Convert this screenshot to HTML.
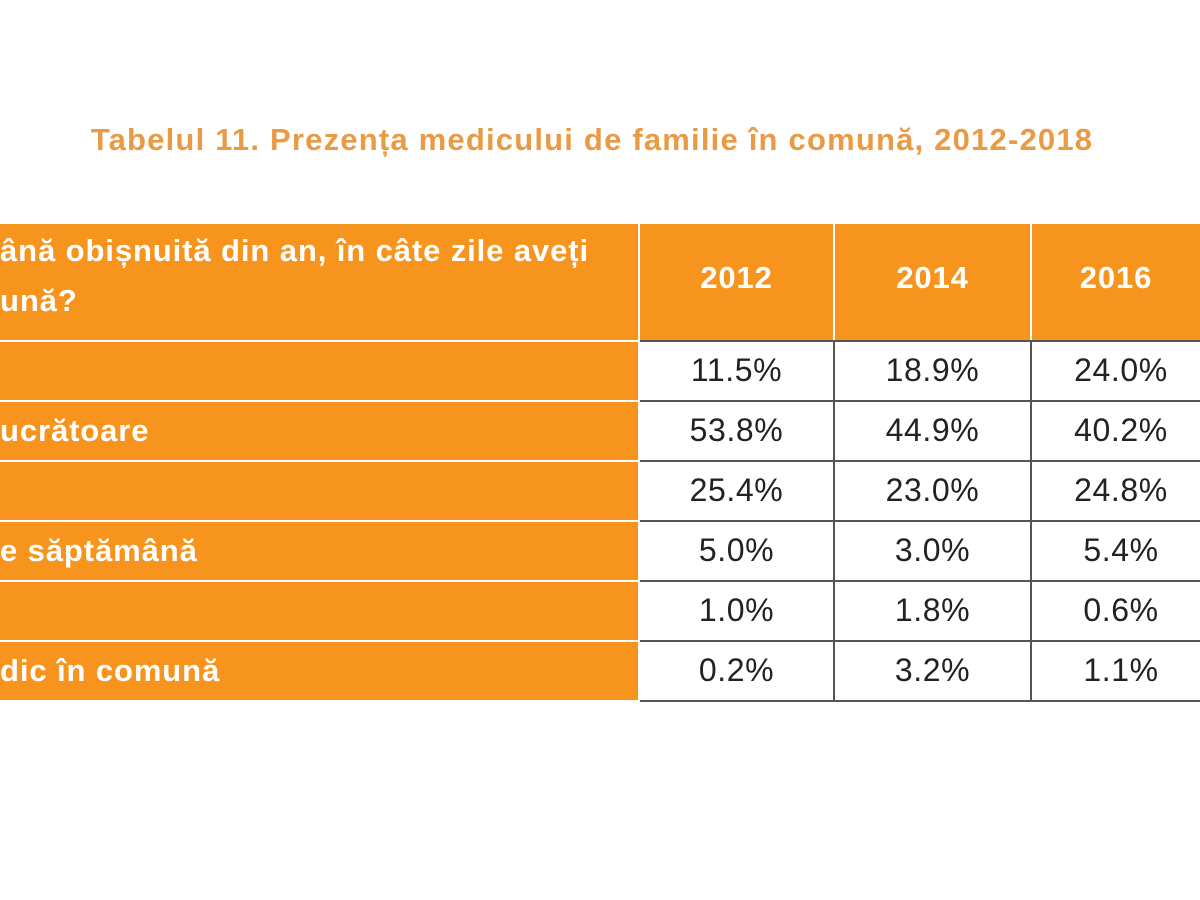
<!DOCTYPE html>
<html><head><meta charset="utf-8"><style>
body{margin:0;width:1200px;height:900px;background:#fff;position:relative;overflow:hidden;font-family:"Liberation Sans",sans-serif;}
.t{position:absolute;left:0;width:1184px;top:122px;text-align:center;color:#e99a45;font-weight:bold;font-size:31px;letter-spacing:1.2px;}
.o{position:absolute;background:#f7941d;color:#fff;font-weight:bold;font-size:31px;letter-spacing:0.9px;}
.c{position:absolute;background:#fff;color:#222;font-size:32px;letter-spacing:0.6px;text-align:center;line-height:56px;border-right:2px solid #555;border-bottom:2px solid #555;box-sizing:border-box;}
.h{text-align:center;line-height:108px;font-size:31px;}
.l{line-height:58px;}
</style></head><body>
<div class="t">Tabelul 11. Prezența medicului de familie în comună, 2012-2018</div>
<div class="o" style="left:0;top:224px;width:638px;height:116px;line-height:50px;padding-top:2px;box-sizing:border-box;">ână obișnuită din an, în câte zile aveți<br>ună?</div>
<div class="o h" style="left:640px;top:224px;width:193px;height:116px;">2012</div>
<div class="o h" style="left:835px;top:224px;width:195px;height:116px;">2014</div>
<div class="o h" style="left:1032px;top:224px;width:168px;height:116px;">2016</div>
<div class="o l" style="left:0;top:342px;width:638px;height:58px;"></div>
<div class="o l" style="left:0;top:402px;width:638px;height:58px;">ucrătoare</div>
<div class="o l" style="left:0;top:462px;width:638px;height:58px;"></div>
<div class="o l" style="left:0;top:522px;width:638px;height:58px;">e săptămână</div>
<div class="o l" style="left:0;top:582px;width:638px;height:58px;"></div>
<div class="o l" style="left:0;top:642px;width:638px;height:58px;">dic în comună</div>
<div style="position:absolute;left:640px;top:340px;width:560px;height:362px;border-top:2px solid #555;box-sizing:border-box;"></div>
<div class="c" style="left:640px;top:342px;width:195px;height:60px;">11.5%</div>
<div class="c" style="left:835px;top:342px;width:197px;height:60px;">18.9%</div>
<div class="c" style="left:1032px;top:342px;width:180px;height:60px;">24.0%</div>
<div class="c" style="left:640px;top:402px;width:195px;height:60px;">53.8%</div>
<div class="c" style="left:835px;top:402px;width:197px;height:60px;">44.9%</div>
<div class="c" style="left:1032px;top:402px;width:180px;height:60px;">40.2%</div>
<div class="c" style="left:640px;top:462px;width:195px;height:60px;">25.4%</div>
<div class="c" style="left:835px;top:462px;width:197px;height:60px;">23.0%</div>
<div class="c" style="left:1032px;top:462px;width:180px;height:60px;">24.8%</div>
<div class="c" style="left:640px;top:522px;width:195px;height:60px;">5.0%</div>
<div class="c" style="left:835px;top:522px;width:197px;height:60px;">3.0%</div>
<div class="c" style="left:1032px;top:522px;width:180px;height:60px;">5.4%</div>
<div class="c" style="left:640px;top:582px;width:195px;height:60px;">1.0%</div>
<div class="c" style="left:835px;top:582px;width:197px;height:60px;">1.8%</div>
<div class="c" style="left:1032px;top:582px;width:180px;height:60px;">0.6%</div>
<div class="c" style="left:640px;top:642px;width:195px;height:60px;">0.2%</div>
<div class="c" style="left:835px;top:642px;width:197px;height:60px;">3.2%</div>
<div class="c" style="left:1032px;top:642px;width:180px;height:60px;">1.1%</div>
</body></html>
